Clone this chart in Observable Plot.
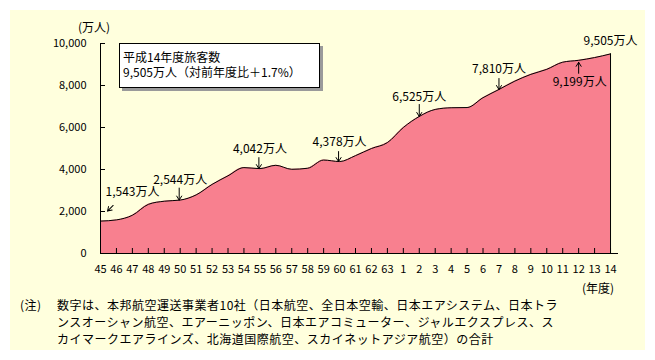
<!DOCTYPE html>
<html><head><meta charset="utf-8">
<script src="https://cdn.jsdelivr.net/npm/d3@7"></script>
<script src="https://cdn.jsdelivr.net/npm/@observablehq/plot@0.6"></script>
<style>
body{margin:0;background:#fff;}
#wrap{position:relative;width:655px;height:360px;overflow:hidden;font-family:"Noto Sans CJK JP",sans-serif;color:#000;}
#bg{position:absolute;left:10px;top:10px;width:635px;height:340px;background:#FFFFDD;}
#chart{position:absolute;left:0;top:0;}
.lbl{position:absolute;font-size:12px;line-height:1;white-space:nowrap;}
#box{position:absolute;left:119px;top:43px;width:201px;height:45px;background:#fff;border:1px solid #000;box-shadow:3px 3px 0 #9a9a9a;box-sizing:border-box;padding:5px 0 0 3px;font-size:12px;line-height:15px;white-space:nowrap;}
.bl{display:block;height:15px;line-height:15px;}
.note{position:absolute;font-size:12px;letter-spacing:0.5px;line-height:17px;white-space:nowrap;}
</style></head>
<body>
<div id="wrap">
  <div id="bg"></div>
  <div id="chart"></div>
  <div class="lbl" style="left:78px;top:21px;">(万人)</div>
  <div class="lbl" style="left:582px;top:282px;">(年度)</div>
  <div id="box"><span class="bl">平成14年度旅客数</span><span class="bl">9,505万人（対前年度比＋1.7%）</span></div>
  <div class="note" style="left:20px;top:296px;">(注)</div>
  <div class="note" style="left:57px;top:296px;">数字は、本邦航空運送事業者10社（日本航空、全日本空輸、日本エアシステム、日本トラ</div>
  <div class="note" style="left:57px;top:313px;">ンスオーシャン航空、エアーニッポン、日本エアコミューター、ジャルエクスプレス、ス</div>
  <div class="note" style="left:57px;top:330px;">カイマークエアラインズ、北海道国際航空、スカイネットアジア航空）の合計</div>
</div>
<script>
// Fiscal-year tick labels (Showa 45–63, Heisei 1–14)
const yearLabels = ["45","46","47","48","49","50","51","52","53","54","55","56","57","58","59","60","61","62","63",
  "1","2","3","4","5","6","7","8","9","10","11","12","13","14"];
// Domestic air passengers (10,000 persons)
const passengers = [1543,1600,1820,2340,2490,2544,2790,3290,3700,4090,4042,4200,4010,4060,4450,4378,4660,5000,5280,
  6000,6525,6860,6940,6950,7420,7810,8210,8530,8770,9110,9199,9330,9505];
const yTicks = [0,2000,4000,6000,8000,10000];
// Annotated points (index into series) and their labels
const annotIndex = [0,5,10,15,20,25,30,32];
const annotText = ["1,543万人","2,544万人","4,042万人","4,378万人","6,525万人","7,810万人","9,199万人","9,505万人"];

const data = yearLabels.map((label,i)=>({i,label,v:passengers[i]}));
const annots = annotIndex.map((idx,k)=>({i:idx,v:passengers[idx],label:annotText[k]}));

// layout offsets for labels/arrows (pixels)
const layout = [
  {tdx:32,tdy:-29, arrow:{dx:7,dy:-10,len:8,rot:225}},
  {tdx:0,tdy:-20, arrow:{dx:-1,dy:0,len:12,rot:180}},
  {tdx:0,tdy:-19, arrow:{dx:-1,dy:0,len:11,rot:180}},
  {tdx:0,tdy:-19, arrow:{dx:-1,dy:0,len:10,rot:180}},
  {tdx:0,tdy:-19, arrow:{dx:0,dy:0,len:12,rot:180}},
  {tdx:0,tdy:-20, arrow:{dx:0,dy:0,len:11,rot:180}},
  {tdx:1,tdy:22, arrow:{dx:0,dy:2,len:11,rot:0}},
  {tdx:0,tdy:-13, arrow:null}
];
const arrowShape = {draw(ctx,l){ctx.moveTo(0,0);ctx.lineTo(0,-l);ctx.moveTo(-2.5,-l+4);ctx.lineTo(0,-l);ctx.lineTo(2.5,-l+4);}};

const annotMarks = [];
annots.forEach((a,k)=>{
  const L = layout[k];
  annotMarks.push(Plot.text([a],{x:"i",y:"v",text:"label",dx:L.tdx,dy:L.tdy,fontSize:12,fill:"#000"}));
  if (L.arrow) annotMarks.push(Plot.vector([a],{x:"i",y:"v",anchor:"end",length:L.arrow.len,rotate:L.arrow.rot,
    dx:L.arrow.dx,dy:L.arrow.dy,shape:arrowShape,stroke:"#000",strokeWidth:1}));
});

const chart = Plot.plot({
  width:655, height:360,
  marginLeft:100, marginRight:37, marginTop:43, marginBottom:107,
  x:{domain:[0,32.5], axis:null},
  y:{domain:[0,10000], axis:null},
  style:{background:"transparent", fontFamily:'"Noto Sans CJK JP", sans-serif', fontSize:"11px", color:"#000", overflow:"visible"},
  marks:[
    Plot.areaY(data,{x:"i",y:"v",fill:"#F8808F",curve:"monotone-x"}),
    Plot.lineY(data,{x:"i",y:"v",stroke:"#000",strokeWidth:1,curve:"monotone-x"}),
    Plot.ruleX([data[data.length-1]],{x:"i",y1:0,y2:"v",stroke:"#000"}),
    Plot.ruleX([0],{stroke:"#000"}),
    Plot.ruleY([0],{stroke:"#000"}),
    Plot.axisY({ticks:yTicks,tickSize:-5,tickPadding:19,tickFormat:d3.format(","),fontSize:11,label:null}),
    Plot.axisX({ticks:d3.range(yearLabels.length),tickSize:-5,tickPadding:17,tickFormat:i=>yearLabels[i],fontSize:11,label:null}),
    ...annotMarks
  ]
});
document.getElementById("chart").appendChild(chart);
</script>
</body></html>
